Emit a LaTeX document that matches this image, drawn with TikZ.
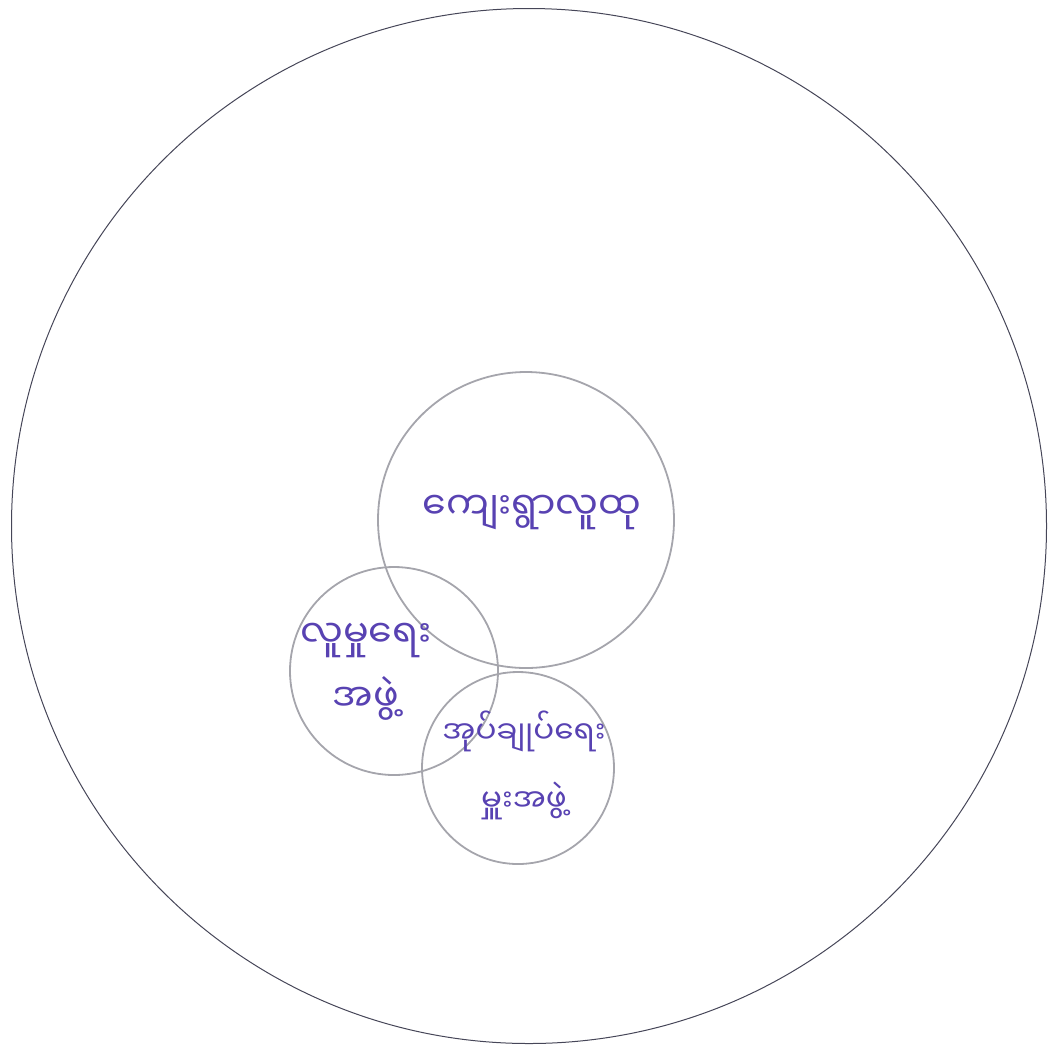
\documentclass[tikz,border=0pt]{standalone}
\usepackage{fontspec}
\newfontfamily\myanfont[Script=Myanmar]{Noto Sans Myanmar UI}
\definecolor{inkpurple}{RGB}{88,66,178}
\definecolor{ringgray}{RGB}{165,165,172}
\definecolor{outergray}{RGB}{70,70,88}

\begin{document}
\begin{tikzpicture}[x=0.5pt, y=-0.5pt,
  ring/.style={circle, draw=ringgray, line width=0.9pt, inner sep=0pt},
  label/.style={text=inkpurple, font=\myanfont\fontsize{19}{32}\selectfont, align=center}]
  \useasboundingbox (0,0) rectangle (1050,1046);
  \node[circle, draw=outergray, line width=0.5pt, minimum size=517.5pt] (world) at (529,526) {};
  \node[ring, minimum size=148pt] (village) at (526,520) {};
  \node[ring, minimum size=104pt] (social) at (394,671) {};
  \node[ring, minimum size=96pt] (admin) at (518,768) {};
  \node[label] (villagetext) at (532,512) {ကျေးရွာလူထု};
  \node[label] (socialtext) at (366,672) {လူမှုရေး\\အဖွဲ့};
  \node[label, font=\myanfont\fontsize{15.5}{34}\selectfont] (admintext) at (524,765) {အုပ်ချုပ်ရေး\\မှူးအဖွဲ့};
\end{tikzpicture}
\end{document}
